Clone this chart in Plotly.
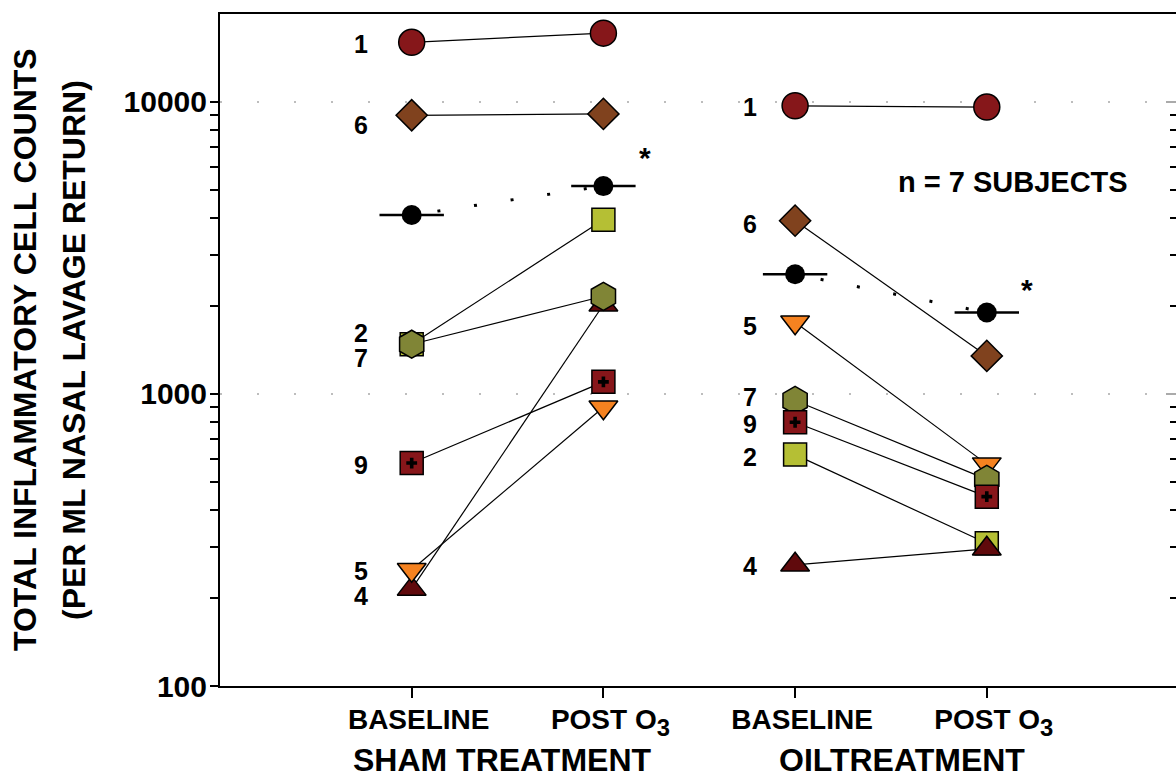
import math
import plotly.graph_objects as go

# ---------------- data ----------------
group_labels = ["SHAM TREATMENT", "OILTREATMENT"]
tick_labels = ["BASELINE",
               "POST O<span style='font-size:34px'><sub>3</sub></span>",
               "BASELINE",
               "POST O<span style='font-size:34px'><sub>3</sub></span>"]
tick_positions = [1, 2, 3, 4]

# subjects in drawing order (bottom -> top)
subject_ids = ["2", "4", "5", "7", "9", "6", "1"]
sham_baseline = [1480, 215, 250, 1480, 580, 9000, 16000]
sham_post = [3950, 2020, 900, 2160, 1100, 9100, 17200]
oil_baseline = [620, 260, 1760, 950, 800, 3920, 9700]
oil_post = [308, 295, 575, 510, 445, 1350, 9600]

mean_values = [4100, 5150, 2570, 1900]

y_major = [100, 1000, 10000]
y_major_text = ["100", "1000", "10000"]
y_minor = [200, 300, 400, 500, 600, 700, 800, 900,
           2000, 3000, 4000, 5000, 6000, 7000, 8000, 9000]

# ---------------- styles ----------------
FONT = "Liberation Sans, Arial, sans-serif"
styles = {
    "1": dict(symbol="circle", size=26, color="#86171a"),
    "6": dict(symbol="diamond", size=24, color="#80421e"),
    "2": dict(symbol="square", size=23, color="#b5bf34"),
    "7": dict(symbol="hexagon", size=28, color="#808536"),
    "9": dict(symbol="square", size=23, color="#87161a"),
    "5": dict(symbol="triangle-down", size=25, color="#f58220"),
    "4": dict(symbol="triangle-up", size=25, color="#600a0c"),
}
# label pixel offsets (style only)
sham_label_shift = {"1": -2, "6": -10, "2": 11, "7": -14, "9": -2, "5": -1, "4": -7}
oil_label_shift = {"1": -1, "6": -3, "5": -4, "7": 3, "9": -2, "2": -2, "4": -1}

fig = go.Figure()

# connecting lines (below all markers)
for i, sid in enumerate(subject_ids):
    fig.add_trace(go.Scatter(
        x=[tick_positions[0], tick_positions[1], None, tick_positions[2], tick_positions[3]],
        y=[sham_baseline[i], sham_post[i], None, oil_baseline[i], oil_post[i]],
        mode="lines", line=dict(color="black", width=1.2),
        hoverinfo="skip", showlegend=False, connectgaps=False))

# mean dotted connection
fig.add_trace(go.Scatter(
    x=[tick_positions[0], tick_positions[1], None, tick_positions[2], tick_positions[3]],
    y=[mean_values[0], mean_values[1], None, mean_values[2], mean_values[3]],
    mode="lines", line=dict(color="black", width=3, dash="0px,26px,3px,8px"),
    hoverinfo="skip", showlegend=False, connectgaps=False))

# mean markers with horizontal bars
fig.add_trace(go.Scatter(
    x=tick_positions, y=mean_values, mode="markers",
    marker=dict(symbol="circle", size=20, color="black", line=dict(width=0)),
    error_x=dict(type="constant", value=0.168, width=0, thickness=2.5, color="black"),
    showlegend=False))

# subject markers
for i, sid in enumerate(subject_ids):
    st = styles[sid]
    xs = tick_positions
    ys = [sham_baseline[i], sham_post[i], oil_baseline[i], oil_post[i]]
    fig.add_trace(go.Scatter(
        x=xs, y=ys, mode="markers",
        marker=dict(symbol=st["symbol"], size=st["size"], color=st["color"],
                    line=dict(color="black", width=1.5)),
        name="Subject " + sid, showlegend=False))
    if sid == "9":
        fig.add_trace(go.Scatter(
            x=xs, y=ys, mode="markers",
            marker=dict(symbol="cross", size=9, color="black", line=dict(width=0)),
            hoverinfo="skip", showlegend=False))

# invisible trace for the right-hand tick axis
fig.add_trace(go.Scatter(x=[None], y=[None], yaxis="y2", mode="markers",
                         showlegend=False, hoverinfo="skip"))

annotations = []
# subject labels
for i, sid in enumerate(subject_ids):
    annotations.append(dict(x=tick_positions[0], y=math.log10(sham_baseline[i]), xref="x", yref="y",
                            text=sid, showarrow=False, xshift=-51, yshift=sham_label_shift[sid],
                            font=dict(family=FONT, size=25, color="black", weight="bold"),
                            xanchor="center", yanchor="middle"))
    annotations.append(dict(x=tick_positions[2], y=math.log10(oil_baseline[i]), xref="x", yref="y",
                            text=sid, showarrow=False, xshift=-45, yshift=oil_label_shift[sid],
                            font=dict(family=FONT, size=25, color="black", weight="bold"),
                            xanchor="center", yanchor="middle"))

# asterisks
annotations.append(dict(x=tick_positions[1], y=math.log10(mean_values[1]), xref="x", yref="y",
                        text="*", showarrow=False, xshift=42, yshift=29,
                        font=dict(family=FONT, size=30, color="black", weight="bold")))
annotations.append(dict(x=tick_positions[3], y=math.log10(mean_values[3]), xref="x", yref="y",
                        text="*", showarrow=False, xshift=40, yshift=23,
                        font=dict(family=FONT, size=30, color="black", weight="bold")))

# n = 7 subjects
annotations.append(dict(x=0.8295, y=0.75, xref="paper", yref="paper", text="n = 7 SUBJECTS",
                        showarrow=False, xanchor="center", yanchor="middle",
                        font=dict(family=FONT, size=29, color="black", weight="bold")))

# group labels
for gx, gl in zip([1.474, 3.558], group_labels):
    annotations.append(dict(x=gx, y=-0.1095, xref="x", yref="paper", text=gl,
                            showarrow=False, xanchor="center", yanchor="middle",
                            font=dict(family=FONT, size=32, color="black", weight="bold")))

# y-axis title (two rotated lines)
for txt, sh in [("TOTAL INFLAMMATORY CELL COUNTS", -195), ("(PER ML NASAL LAVAGE RETURN)", -146)]:
    annotations.append(dict(x=0, y=0.5, xref="paper", yref="paper", text=txt, textangle=-90,
                            showarrow=False, xshift=sh, xanchor="center", yanchor="middle",
                            font=dict(family=FONT, size=32, color="black", weight="bold")))

fig.update_layout(
    width=1176, height=778, autosize=False,
    margin=dict(l=220, r=0, t=14, b=92),
    plot_bgcolor="white", paper_bgcolor="white",
    showlegend=False,
    font=dict(family=FONT, color="black"),
    annotations=annotations,
    xaxis=dict(range=[0, 4.987], tickmode="array", tickvals=tick_positions, ticktext=tick_labels,
               ticks="outside", ticklen=10, tickwidth=2, tickcolor="black",
               ticklabelshift=7, ticklabelstandoff=-3,
               showline=True, linecolor="black", linewidth=2, mirror=True,
               showgrid=False, zeroline=False,
               tickfont=dict(family=FONT, size=28, color="black", weight="bold")),
    yaxis=dict(type="log", range=[2, math.log10(20000)], tickmode="array",
               tickvals=y_major, ticktext=y_major_text,
               ticks="outside", ticklen=8, tickwidth=2, tickcolor="black",
               ticklabelstandoff=-3,
               showline=True, linecolor="black", linewidth=2, mirror=False,
               showgrid=True, gridcolor="#bdbdbd", gridwidth=2, griddash="2px,35px",
               zeroline=False,
               minor=dict(tickmode="array", tickvals=y_minor, ticks="outside", ticklen=8,
                          tickwidth=1.5, tickcolor="black", showgrid=False),
               tickfont=dict(family=FONT, size=30, color="black", weight="bold")),
    yaxis2=dict(type="log", range=[2, math.log10(20000)], overlaying="y", side="right",
                anchor="x", tickmode="array", tickvals=[1000, 10000],
                ticks="inside", ticklen=10, tickwidth=2, tickcolor="#aaaaaa",
                showticklabels=False, showline=False, showgrid=False, zeroline=False,
                minor=dict(tickmode="array", tickvals=y_minor, ticks="inside", ticklen=6,
                           tickwidth=1.5, tickcolor="black", showgrid=False)),
)

fig.write_html("out.html", config={"displayModeBar": False},
               post_script="document.body.style.margin='0';")
